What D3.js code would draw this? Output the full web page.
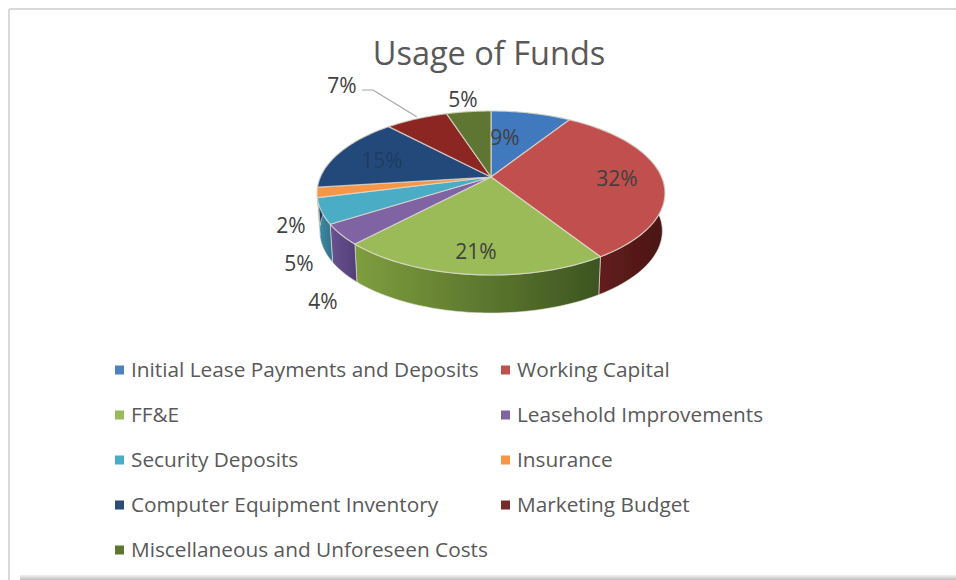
<!DOCTYPE html>
<html>
<head>
<meta charset="utf-8">
<script src="https://cdn.jsdelivr.net/npm/d3@7/dist/d3.min.js"></script>
<style>
html,body{margin:0;padding:0;background:#fff;}
svg{display:block;}
text{font-family:"Open Sans",sans-serif;fill:#595959;}
</style>
</head>
<body>
<svg id="c" width="956" height="580"></svg>
<script>
const title = "Usage of Funds";
const categories = ["Initial Lease Payments and Deposits","Working Capital","FF&E","Leasehold Improvements","Security Deposits","Insurance","Computer Equipment Inventory","Marketing Budget","Miscellaneous and Unforeseen Costs"];
const shares = [9,32,21,4,5,2,15,7,5];
const topColors = ["#4079bd","#c0504d","#9bbb59","#8064a2","#4bacc6","#f79646","#24497a","#8c2524","#5f7530"];
const wallLight = ["#35608f","#6e2523","#7f9e3e","#6a5290","#3f8fa8","#c47430","#1d3a5f","#5e1d1c","#4c5e26"];
const wallDark  = ["#2a4c72","#4a1312","#3d5420","#54407a","#33758c","#a05e26","#172e4c","#4a1716","#3d4b1e"];

const W = 956, H = 580;
const cx = 491, cy = 177, R = 170.6, Rv = 78.9, k = 0.195, depth = 38;
const sx = d3.scaleLinear().domain([-1,1]).range([cx-R,cx+R]);
const sy = d3.scaleLinear().domain([-1,1]).range([cy-Rv,cy+Rv]);
const project = a => {
  const X = Math.sin(a), Y = -Math.cos(a), s = 1/(1-k*Y);
  return [cx+(sx(X)-cx)*s, cy+(sy(Y)-cy)*s];
};
const under = p => [cx+(p[0]-cx)*0.985, p[1]+depth];
const rim = (a0,a1) => d3.range(0,61).map(i => project(a0+(a1-a0)*i/60));

const svg = d3.select("#c");
const defs = svg.append("defs");
defs.append("filter").attr("id","soft").attr("x","-5%").attr("y","-5%").attr("width","110%").attr("height","110%")
  .append("feGaussianBlur").attr("stdDeviation",0.7);
const sh = defs.append("linearGradient").attr("id","shadow").attr("x1",0).attr("x2",0).attr("y1",0).attr("y2",1);
sh.append("stop").attr("offset",0).attr("stop-color","#f2f2f2");
sh.append("stop").attr("offset",1).attr("stop-color","#bdbdbd");

// frame
svg.append("rect").attr("width",W).attr("height",H).attr("fill","#fff");
svg.append("line").attr("x1",9).attr("x2",W).attr("y1",9).attr("y2",9).attr("stroke","#d9d9d9").attr("stroke-width",2);
svg.append("line").attr("x1",9).attr("x2",9).attr("y1",9).attr("y2",H).attr("stroke","#d9d9d9").attr("stroke-width",2);
svg.append("rect").attr("x",20).attr("y",575).attr("width",W-20).attr("height",5).attr("fill","url(#shadow)");

svg.append("text").attr("x",489).attr("y",65).attr("text-anchor","middle").attr("font-size",32.5).text(title);

const pie = d3.pie().sort(null).value(d=>d)(shares);
const line = d3.line();
const g = svg.append("g").attr("filter","url(#soft)");

// side walls first, then top faces over them
pie.forEach((p,i) => {
  const top = rim(p.startAngle,p.endAngle);
  const bottom = top.map(under).reverse();
  const xs = top.map(d=>d[0]);
  const id = "wall"+i;
  const gr = defs.append("linearGradient").attr("id",id).attr("gradientUnits","userSpaceOnUse")
    .attr("x1",d3.min(xs)).attr("x2",d3.max(xs)).attr("y1",0).attr("y2",0);
  gr.append("stop").attr("offset",0).attr("stop-color",wallLight[i]);
  gr.append("stop").attr("offset",1).attr("stop-color",wallDark[i]);
  g.append("path").attr("d",line(top.concat(bottom))+"Z").attr("fill",`url(#${id})`)
    .attr("stroke","#e4e4dc").attr("stroke-width",0.8).attr("stroke-opacity",0.75);
});
pie.forEach((p,i) => {
  const top = rim(p.startAngle,p.endAngle);
  g.append("path").attr("d",line([[cx,cy]].concat(top))+"Z").attr("fill",topColors[i])
    .attr("stroke","#ded9d0").attr("stroke-width",1.2).attr("stroke-opacity",0.8).attr("stroke-linejoin","round");
});

// data labels
const labelOffsets = [[14,-40],[126,1],[-15,74],[-168,124],[-192,86],[-200,48],[-109,-17],[-149,-92],[-28,-78]];
pie.forEach((p,i) => {
  svg.append("text").attr("x",cx+labelOffsets[i][0]).attr("y",cy+labelOffsets[i][1]+7.5)
    .attr("text-anchor","middle").attr("font-size",21)
    .style("fill", i===6 ? "#1f3a5c" : "#404040").attr("opacity", i===6 ? 0.85 : 1)
    .text(p.value+"%");
});
// leader line for the Marketing Budget label
const mk = project((pie[7].startAngle+pie[7].endAngle)/2);
svg.append("path").attr("d",line([[362,90],[373,90],[mk[0],mk[1]-2]])).attr("fill","none").attr("stroke","#a6a6a6").attr("stroke-width",1.2);

// legend
const legendColors = ["#4f81bd","#c0504d","#9bbb59","#8064a2","#4bacc6","#f79646","#2c4d75","#772c2a","#5f7530"];
const rowY = d3.scalePoint().domain(d3.range(5)).range([370,550]);
const colX = d3.scalePoint().domain([0,1]).range([115,501]);
categories.forEach((c,i) => {
  const col = i%2, row = Math.floor(i/2);
  svg.append("rect").attr("x",colX(col)).attr("y",rowY(row)-4.5).attr("width",9).attr("height",9).attr("fill",legendColors[i]);
  svg.append("text").attr("x",colX(col)+16).attr("y",rowY(row)+7).attr("font-size",20.8).text(c);
});
</script>
</body>
</html>
